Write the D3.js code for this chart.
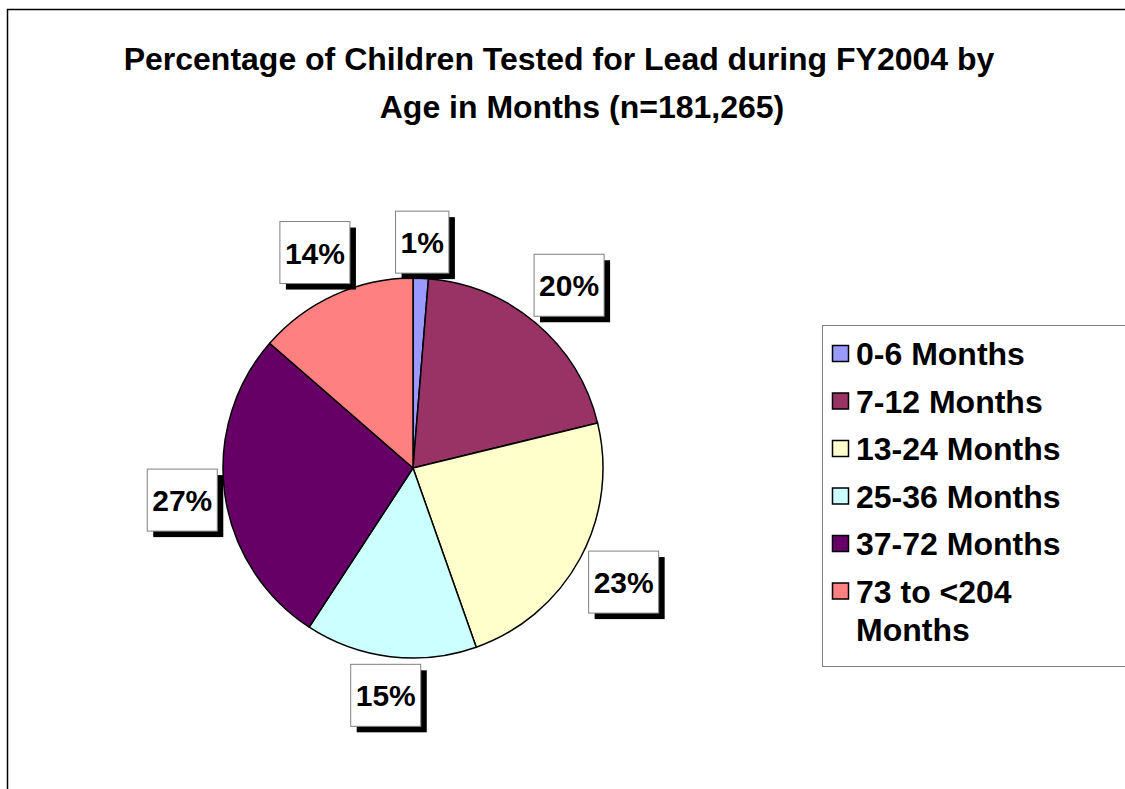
<!DOCTYPE html>
<html>
<head>
<meta charset="utf-8">
<script src="https://cdn.jsdelivr.net/npm/d3@7"></script>
<style>
  html, body { margin: 0; padding: 0; background: #fff; }
  svg { display: block; font-family: "Liberation Sans", Arial, sans-serif; }
</style>
</head>
<body>
<div id="chart"></div>
<script>
(function () {
    "use strict";

    // ── Data ──
    const categories = ["0-6 Months", "7-12 Months", "13-24 Months", "25-36 Months", "37-72 Months", "73 to <204 Months"];
    const legendLines = [["0-6 Months"], ["7-12 Months"], ["13-24 Months"], ["25-36 Months"], ["37-72 Months"], ["73 to <204", "Months"]];
    const percents = [1.3, 19.9, 23.4, 14.6, 27.2, 13.6];
    const colors = ["#9999FF", "#993366", "#FFFFCC", "#CCFFFF", "#660066", "#FF8080"];
    const titleLines = ["Percentage of Children Tested for Lead during FY2004 by", "Age in Months (n=181,265)"];

    const W = 1125, H = 789;
    const cx = 413, cy = 468, r = 190;

    const svg = d3.select("#chart").append("svg")
        .attr("width", W)
        .attr("height", H);

    svg.append("rect").attr("width", W).attr("height", H).attr("fill", "#fff");

    // chart frame (runs off the right / bottom of the window)
    svg.append("rect")
        .attr("x", 7.5).attr("y", 9.5)
        .attr("width", W + 20).attr("height", H + 20)
        .attr("fill", "none")
        .attr("stroke", "#000")
        .attr("stroke-width", 1.5);

    // ── Title ──
    const titleX = [559, 582];
    svg.selectAll("text.title")
        .data(titleLines)
        .join("text")
        .attr("class", "title")
        .attr("x", (d, i) => titleX[i])
        .attr("y", (d, i) => 70 + i * 48)
        .attr("text-anchor", "middle")
        .attr("font-size", 32)
        .attr("font-weight", "bold")
        .attr("fill", "#000")
        .text(d => d);

    // ── Pie ──
    const pie = d3.pie().sort(null).value(d => d).startAngle(0).endAngle(2 * Math.PI);
    const arcs = pie(percents);
    const arc = d3.arc().innerRadius(0).outerRadius(r);

    const g = svg.append("g").attr("transform", `translate(${cx},${cy})`);

    g.selectAll("path.slice")
        .data(arcs)
        .join("path")
        .attr("class", "slice")
        .attr("d", arc)
        .attr("fill", (d, i) => colors[i])
        .attr("stroke", "#000")
        .attr("stroke-width", 1.5)
        .attr("stroke-linejoin", "round");

    // ── Data labels (boxed, with drop shadow) ──
    const boxH = 62, padX = 5, gap = 4, shadow = 6;
    const labels = g.selectAll("g.dlabel")
        .data(arcs)
        .join("g")
        .attr("class", "dlabel");

    labels.each(function (d) {
        const lg = d3.select(this);
        const txt = lg.append("text")
            .attr("text-anchor", "middle")
            .attr("font-size", 30)
            .attr("font-weight", "bold")
            .attr("fill", "#000")
            .text(Math.round(d.data) + "%");
        const tw = txt.node().getComputedTextLength();
        const bw = tw + padX * 2;
        const mid = (d.startAngle + d.endAngle) / 2;
        const sx = Math.sin(mid), sy = -Math.cos(mid);
        const ext = Math.abs(sx) * bw / 2 + Math.abs(sy) * boxH / 2;
        const dist = r + gap + ext;
        const x = sx * dist, y = sy * dist;

        lg.insert("rect", "text")
            .attr("x", x - bw / 2 + shadow).attr("y", y - boxH / 2 + shadow)
            .attr("width", bw).attr("height", boxH)
            .attr("fill", "#000");
        lg.insert("rect", "text")
            .attr("x", x - bw / 2).attr("y", y - boxH / 2)
            .attr("width", bw).attr("height", boxH)
            .attr("fill", "#fff")
            .attr("stroke", "#808080")
            .attr("stroke-width", 1);
        txt.attr("x", x).attr("y", y + 11);
    });

    // ── Legend ──
    const legend = svg.append("g");
    legend.append("rect")
        .attr("x", 822.5).attr("y", 325.5)
        .attr("width", 330).attr("height", 341)
        .attr("fill", "#fff")
        .attr("stroke", "#808080")
        .attr("stroke-width", 1);

    const rowY = d3.scaleLinear().domain([0, 1]).range([354, 401.5]);
    const items = legend.selectAll("g.item")
        .data(categories)
        .join("g")
        .attr("class", "item")
        .attr("transform", (d, i) => `translate(0,${rowY(i)})`);

    items.append("rect")
        .attr("x", 832.5).attr("y", -8.5)
        .attr("width", 16).attr("height", 16)
        .attr("fill", (d, i) => colors[i])
        .attr("stroke", "#000")
        .attr("stroke-width", 1.5);

    items.append("text")
        .attr("x", 856)
        .attr("y", 11)
        .attr("font-size", 32)
        .attr("font-weight", "bold")
        .attr("fill", "#000")
        .selectAll("tspan")
        .data((d, i) => legendLines[i])
        .join("tspan")
        .attr("x", 856)
        .attr("dy", (d, j) => j === 0 ? 0 : 38)
        .text(d => d);
})();
</script>
</body>
</html>
